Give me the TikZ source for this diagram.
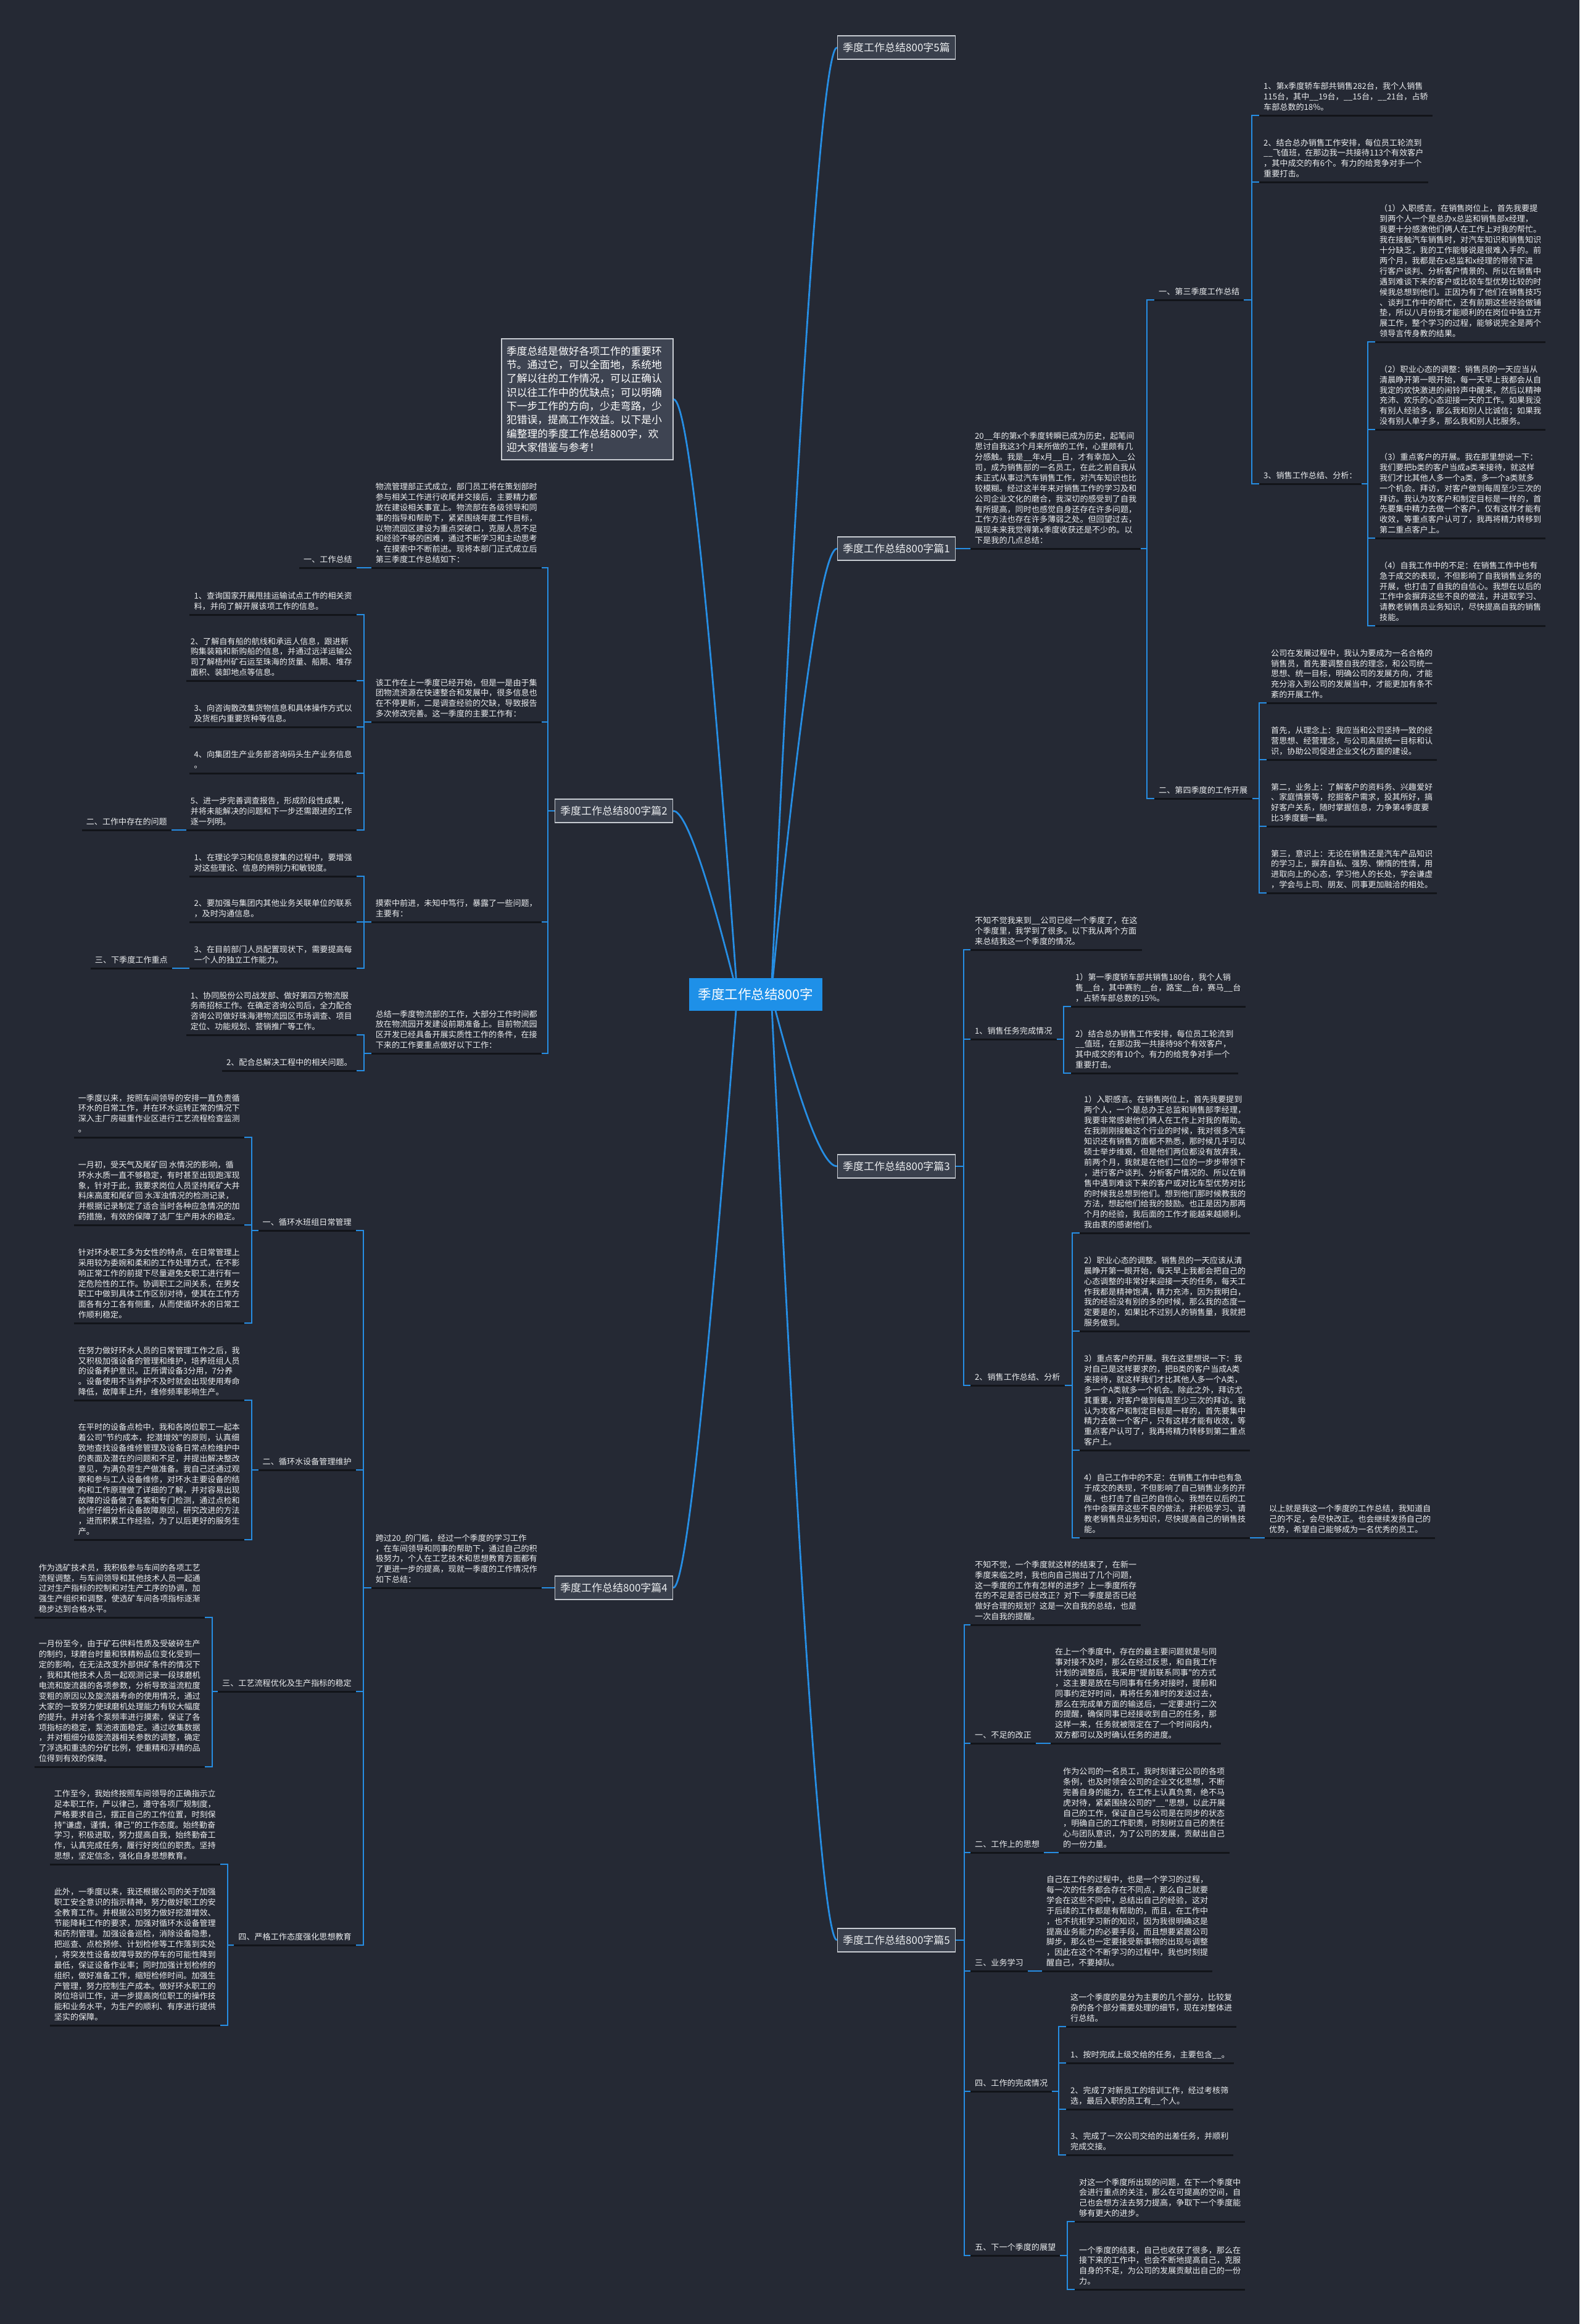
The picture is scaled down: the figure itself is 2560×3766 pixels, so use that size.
\documentclass[tikz,border=0pt]{standalone}
\usepackage{fontspec}
\newfontfamily\cjk{Noto Sans CJK SC}
\usetikzlibrary{calc}
\definecolor{bg}{RGB}{37,41,52}
\definecolor{blu}{RGB}{38,142,228}
\definecolor{ulc}{RGB}{18,20,25}
\definecolor{txc}{RGB}{236,238,240}
\definecolor{boxf}{RGB}{58,64,77}
\definecolor{boxd}{RGB}{200,204,210}
\definecolor{introf}{RGB}{62,68,82}
\definecolor{cfill}{RGB}{30,144,232}
\newcommand\tf{\cjk\fontsize{13.1}{16.9}\selectfont}
\newcommand\conR[2]{\draw[cn] (#1.south east) -| ($(#2.south west)+(-12,0)$) -- (#2.south west);}
\newcommand\conL[2]{\draw[cn] (#1.south west) -| ($(#2.south east)+(12,0)$) -- (#2.south east);}
\newcommand\qc[3]{\draw[cn] #1 .. controls ($#1!2/3!#2$) and ($#3!2/3!#2$) .. #3;}
\tikzset{
 ul/.style={draw=ulc, line width=3pt},
 cn/.style={draw=blu, line width=2.8pt},
 tx/.style={font=\tf, text=txc, align=left, inner xsep=7pt, inner ysep=3pt,
   execute at end node=\strut,
   append after command={(\tikzlastnode.south west) edge[ul] (\tikzlastnode.south east)}},
 R/.style={tx, anchor=south west},
 L/.style={tx, anchor=south east},
 topbox/.style={draw=boxd, fill=boxf, line width=1.5pt, text=txc,
   font=\cjk\fontsize{17}{20}\selectfont, minimum width=191pt, minimum height=38pt, inner sep=0pt},
}
\begin{document}
\begin{tikzpicture}[x=1pt,y=-1pt]
\useasboundingbox (0,0) rectangle (2560,3766);
\fill[bg] (0,0) rectangle (2560,3766);

% ---------- level-1 nodes ----------
\node[topbox] (t5) at (1453,77) {季度工作总结800字5篇};
\node[topbox] (t1) at (1453,889) {季度工作总结800字篇1};
\node[topbox] (t3) at (1453,1890) {季度工作总结800字篇3};
\node[topbox] (t6) at (1453,3144) {季度工作总结800字篇5};
\node[topbox] (t2) at (995,1314) {季度工作总结800字篇2};
\node[topbox] (t4) at (995,2573) {季度工作总结800字篇4};
\node[draw=boxd, fill=introf, line width=1.5pt, text=white, align=left,
  text width=262pt, inner xsep=8pt, minimum width=278pt, minimum height=196pt,
  font=\cjk\fontsize{16.8}{22.3}\selectfont] (intro) at (952,647)
  {季度总结是做好各项工作的重要环\\节。通过它，可以全面地，系统地\\了解以往的工作情况，可以正确认\\识以往工作中的优缺点；可以明确\\下一步工作的方向，少走弯路，少\\犯错误，提高工作效益。以下是小\\编整理的季度工作总结800字，欢\\迎大家借鉴与参考！};

% ---------- curves from centre ----------
\coordinate (sr) at (1250,1611);
\coordinate (sl) at (1195,1611);
\qc{(sr)}{(1322,77)}{(t5.west)}
\qc{(sr)}{(1322,889)}{(t1.west)}
\qc{(sr)}{(1322,1890)}{(t3.west)}
\qc{(sr)}{(1322,3144)}{(t6.west)}
\qc{(sl)}{(1121,1314)}{(t2.east)}
\qc{(sl)}{(1121,2573)}{(t4.east)}
\qc{(sl)}{(1126,648)}{(intro.east)}

\node[fill=cfill, text=white, font=\cjk\fontsize{21.5}{25}\selectfont,
  minimum width=216pt, minimum height=53pt, inner sep=0pt] (c) at (1225,1611) {季度工作总结800字};

% ================= 篇1 =================
\node[R] (p1) at (1573,889) {20\_\_年的第x个季度转瞬已成为历史，起笔间\\思讨自我这3个月来所做的工作，心里颇有几\\分感触。我是\_\_年x月\_\_日，才有幸加入\_\_公\\司，成为销售部的一名员工，在此之前自我从\\未正式从事过汽车销售工作，对汽车知识也比\\较模糊。经过这半年来对销售工作的学习及和\\公司企业文化的磨合，我深切的感受到了自我\\有所提高，同时也感觉自身还存在许多问题，\\工作方法也存在许多薄弱之处。但回望过去，\\展现未来我觉得第x季度收获还是不少的。以\\下是我的几点总结：};
\node[R] (a1) at (1871,486) {一、第三季度工作总结};
\node[R] (a2) at (1871,1294) {二、第四季度的工作开展};
\node[R] (a11) at (2041,187) {1、第x季度轿车部共销售282台，我个人销售\\115台，其中\_\_19台，\_\_15台，\_\_21台，占轿\\车部总数的18\%。};
\node[R] (a12) at (2041,295) {2、结合总办销售工作安排，每位员工轮流到\\\_\_飞值班，在那边我一共接待113个有效客户\\，其中成交的有6个。有力的给竞争对手一个\\重要打击。};
\node[R] (a13) at (2041,784) {3、销售工作总结、分析：};
\node[R] (b1) at (2229,554) {（1）入职感言。在销售岗位上，首先我要提\\到两个人一个是总办x总监和销售部x经理，\\我要十分感激他们俩人在工作上对我的帮忙。\\我在接触汽车销售时，对汽车知识和销售知识\\十分缺乏，我的工作能够说是很难入手的。前\\两个月，我都是在x总监和x经理的带领下进\\行客户谈判、分析客户情景的、所以在销售中\\遇到难谈下来的客户或比较车型优势比较的时\\候我总想到他们。正因为有了他们在销售技巧\\、谈判工作中的帮忙，还有前期这些经验做铺\\垫，所以八月份我才能顺利的在岗位中独立开\\展工作，整个学习的过程，能够说完全是两个\\领导言传身教的结果。};
\node[R] (b2) at (2229,696) {（2）职业心态的调整：销售员的一天应当从\\清晨睁开第一眼开始，每一天早上我都会从自\\我定的欢快激进的闹铃声中醒来，然后以精神\\充沛、欢乐的心态迎接一天的工作。如果我没\\有别人经验多，那么我和别人比诚信；如果我\\没有别人单子多，那么我和别人比服务。};
\node[R] (b3) at (2229,872) {（3）重点客户的开展。我在那里想说一下：\\我们要把b类的客户当成a类来接待，就这样\\我们才比其他人多一个a类，多一个a类就多\\一个机会。拜访，对客户做到每周至少三次的\\拜访。我认为攻客户和制定目标是一样的，首\\先要集中精力去做一个客户，仅有这样才能有\\收效，等重点客户认可了，我再将精力转移到\\第二重点客户上。};
\node[R] (b4) at (2229,1014) {（4）自我工作中的不足：在销售工作中也有\\急于成交的表现，不但影响了自我销售业务的\\开展，也打击了自我的自信心。我想在以后的\\工作中会摒弃这些不良的做法，并进取学习、\\请教老销售员业务知识，尽快提高自我的销售\\技能。};
\node[R] (a21) at (2053,1139) {公司在发展过程中，我认为要成为一名合格的\\销售员，首先要调整自我的理念，和公司统一\\思想、统一目标，明确公司的发展方向，才能\\充分溶入到公司的发展当中，才能更加有条不\\紊的开展工作。};
\node[R] (a22) at (2053,1231) {首先，从理念上：我应当和公司坚持一致的经\\营思想、经营理念，与公司高层统一目标和认\\识，协助公司促进企业文化方面的建设。};
\node[R] (a23) at (2053,1339) {第二，业务上：了解客户的资料务、兴趣爱好\\、家庭情景等，挖掘客户需求，投其所好，搞\\好客户关系，随时掌握信息，力争第4季度要\\比3季度翻一翻。};
\node[R] (a24) at (2053,1447) {第三，意识上：无论在销售还是汽车产品知识\\的学习上，摒弃自私、强势、懒惰的性情，用\\进取向上的心态，学习他人的长处，学会谦虚\\，学会与上司、朋友、同事更加融洽的相处。};
\draw[cn] (t1.east) -- (p1.south west);
\conR{p1}{a1} \conR{p1}{a2}
\conR{a1}{a11} \conR{a1}{a12} \conR{a1}{a13}
\conR{a13}{b1} \conR{a13}{b2} \conR{a13}{b3} \conR{a13}{b4}
\conR{a2}{a21} \conR{a2}{a22} \conR{a2}{a23} \conR{a2}{a24}

% ================= 篇3 =================
\node[R] (q0) at (1573,1539) {不知不觉我来到\_\_公司已经一个季度了，在这\\个季度里，我学到了很多。以下我从两个方面\\来总结我这一个季度的情况。};
\node[R] (q1) at (1573,1684) {1、销售任务完成情况};
\node[R] (q2) at (1573,2245) {2、销售工作总结、分析};
\node[R] (q11) at (1736,1631) {1）第一季度轿车部共销售180台，我个人销\\售\_\_台，其中赛豹\_\_台，路宝\_\_台，赛马\_\_台\\，占轿车部总数的15\%。};
\node[R] (q12) at (1736,1739) {2）结合总办销售工作安排，每位员工轮流到\\\_\_值班，在那边我一共接待98个有效客户，\\其中成交的有10个。有力的给竞争对手一个\\重要打击。};
\node[R] (q21) at (1750,1998) {1）入职感言。在销售岗位上，首先我要提到\\两个人，一个是总办王总监和销售部李经理，\\我要非常感谢他们俩人在工作上对我的帮助。\\在我刚刚接触这个行业的时候，我对很多汽车\\知识还有销售方面都不熟悉，那时候几乎可以\\硕士举步维艰，但是他们两位都没有放弃我，\\前两个月，我就是在他们二位的一步步带领下\\，进行客户谈判、分析客户情况的、所以在销\\售中遇到难谈下来的客户或对比车型优势对比\\的时候我总想到他们。想到他们那时候教我的\\方法，想起他们给我的鼓励。也正是因为那两\\个月的经验，我后面的工作才能越来越顺利。\\我由衷的感谢他们。};
\node[R] (q22) at (1750,2157) {2）职业心态的调整。销售员的一天应该从清\\晨睁开第一眼开始，每天早上我都会把自己的\\心态调整的非常好来迎接一天的任务，每天工\\作我都是精神饱满，精力充沛，因为我明白，\\我的经验没有别的多的时候，那么我的态度一\\定要是的，如果比不过别人的销售量，我就把\\服务做到。};
\node[R] (q23) at (1750,2350) {3）重点客户的开展。我在这里想说一下：我\\对自己是这样要求的，把B类的客户当成A类\\来接待，就这样我们才比其他人多一个A类，\\多一个A类就多一个机会。除此之外，拜访尤\\其重要，对客户做到每周至少三次的拜访。我\\认为攻客户和制定目标是一样的，首先要集中\\精力去做一个客户，只有这样才能有收效，等\\重点客户认可了，我再将精力转移到第二重点\\客户上。};
\node[R] (q24) at (1750,2492) {4）自己工作中的不足：在销售工作中也有急\\于成交的表现，不但影响了自己销售业务的开\\展，也打击了自己的自信心。我想在以后的工\\作中会摒弃这些不良的做法，并积极学习、请\\教老销售员业务知识，尽快提高自己的销售技\\能。};
\node[R] (q25) at (2050,2492) {以上就是我这一个季度的工作总结，我知道自\\己的不足，会尽快改正。也会继续发扬自己的\\优势，希望自己能够成为一名优秀的员工。};
\draw[cn] (t3.east) -| ($(q0.south west)+(-11,0)$) -- (q0.south west);
\draw[cn] (t3.east) -| ($(q1.south west)+(-11,0)$) -- (q1.south west);
\draw[cn] (t3.east) -| ($(q2.south west)+(-11,0)$) -- (q2.south west);
\conR{q1}{q11} \conR{q1}{q12}
\conR{q2}{q21} \conR{q2}{q22} \conR{q2}{q23} \conR{q2}{q24}
\draw[cn] (q24.south east) -- (q25.south west);

% ================= 篇5 =================
\node[R] (r0) at (1573,2633) {不知不觉，一个季度就这样的结束了，在新一\\季度来临之时，我也向自己抛出了几个问题，\\这一季度的工作有怎样的进步？上一季度所存\\在的不足是否已经改正？对下一季度是否已经\\做好合理的规划？这是一次自我的总结，也是\\一次自我的提醒。};
\node[R] (r1) at (1573,2825) {一、不足的改正};
\node[R] (r1c) at (1703,2825) {在上一个季度中，存在的最主要问题就是与同\\事对接不及时，那么在经过反思，和自我工作\\计划的调整后，我采用"提前联系同事"的方式\\，这主要是放在与同事有任务对接时，提前和\\同事约定好时间，再将任务准时的发送过去，\\那么在完成单方面的输送后，一定要进行二次\\的提醒，确保同事已经接收到自己的任务，那\\这样一来，任务就被限定在了一个时间段内，\\双方都可以及时确认任务的进度。};
\node[R] (r2) at (1573,3002) {二、工作上的思想};
\node[R] (r2c) at (1716,3002) {作为公司的一名员工，我时刻谨记公司的各项\\条例，也及时领会公司的企业文化思想，不断\\完善自身的能力，在工作上认真负责，绝不马\\虎对待，紧紧围绕公司的"\_\_"思想，以此开展\\自己的工作，保证自己与公司是在同步的状态\\，明确自己的工作职责，时刻树立自己的责任\\心与团队意识，为了公司的发展，贡献出自己\\的一份力量。};
\node[R] (r3) at (1573,3194) {三、业务学习};
\node[R] (r3c) at (1689,3194) {自己在工作的过程中，也是一个学习的过程，\\每一次的任务都会存在不同点，那么自己就要\\学会在这些不同中，总结出自己的经验，这对\\于后续的工作都是有帮助的，而且，在工作中\\，也不抗拒学习新的知识，因为我很明确这是\\提高业务能力的必要手段，而且想要紧跟公司\\脚步，那么也一定要接受新事物的出现与调整\\，因此在这个不断学习的过程中，我也时刻提\\醒自己，不要掉队。};
\node[R] (r4) at (1573,3389) {四、工作的完成情况};
\node[R] (r41) at (1728,3284) {这一个季度的是分为主要的几个部分，比较复\\杂的各个部分需要处理的细节，现在对整体进\\行总结。};
\node[R] (r42) at (1728,3343) {1、按时完成上级交给的任务，主要包含\_\_。};
\node[R] (r43) at (1728,3418) {2、完成了对新员工的培训工作，经过考核筛\\选，最后入职的员工有\_\_个人。};
\node[R] (r44) at (1728,3492) {3、完成了一次公司交给的出差任务，并顺利\\完成交接。};
\node[R] (r5) at (1573,3655) {五、下一个季度的展望};
\node[R] (r51) at (1742,3600) {对这一个季度所出现的问题，在下一个季度中\\会进行重点的关注，那么在可提高的空间，自\\己也会想方法去努力提高，争取下一个季度能\\够有更大的进步。};
\node[R] (r52) at (1742,3710) {一个季度的结束，自己也收获了很多，那么在\\接下来的工作中，也会不断地提高自己，克服\\自身的不足，为公司的发展贡献出自己的一份\\力。};
\foreach \n in {r0,r1,r2,r3,r4,r5}{
  \draw[cn] (t6.east) -| ($(\n.south west)+(-10,0)$) -- (\n.south west);}
\draw[cn] (r1.south east) -- (r1c.south west);
\draw[cn] (r2.south east) -- (r2c.south west);
\draw[cn] (r3.south east) -- (r3c.south west);
\conR{r4}{r41} \conR{r4}{r42} \conR{r4}{r43} \conR{r4}{r44}
\conR{r5}{r51} \conR{r5}{r52}

% ================= 篇2 =================
\node[L] (m1) at (878,920) {物流管理部正式成立，部门员工将在策划部时\\参与相关工作进行收尾并交接后，主要精力都\\放在建设相关事宜上。物流部在各级领导和同\\事的指导和帮助下，紧紧围绕年度工作目标，\\以物流园区建设为重点突破口，克服人员不足\\和经验不够的困难，通过不断学习和主动思考\\，在摸索中不断前进。现将本部门正式成立后\\第三季度工作总结如下：};
\node[L] (m1c) at (578,920) {一、工作总结};
\node[L] (m2) at (878,1170) {该工作在上一季度已经开始，但是一是由于集\\团物流资源在快速整合和发展中，很多信息也\\在不停更新，二是调查经验的欠缺，导致报告\\多次修改完善。这一季度的主要工作有：};
\node[L] (m21) at (578,996) {1、查询国家开展甩挂运输试点工作的相关资\\料，并向了解开展该项工作的信息。};
\node[L] (m22) at (578,1103) {2、了解自有船的航线和承运人信息，跟进新\\购集装箱和新购船的信息，并通过远洋运输公\\司了解梧州矿石运至珠海的货量、船期、堆存\\面积、装卸地点等信息。};
\node[L] (m23) at (578,1178) {3、向咨询散改集货物信息和具体操作方式以\\及货柜内重要货种等信息。};
\node[L] (m24) at (578,1253) {4、向集团生产业务部咨询码头生产业务信息\\。};
\node[L] (m25) at (578,1345) {5、进一步完善调查报告，形成阶段性成果，\\并将未能解决的问题和下一步还需跟进的工作\\逐一列明。};
\node[L] (m25c) at (278,1345) {二、工作中存在的问题};
\node[L] (m3) at (878,1494) {摸索中前进，未知中笃行，暴露了一些问题，\\主要有：};
\node[L] (m31) at (578,1420) {1、在理论学习和信息搜集的过程中，要增强\\对这些理论、信息的辨别力和敏锐度。};
\node[L] (m32) at (578,1494) {2、要加强与集团内其他业务关联单位的联系\\，及时沟通信息。};
\node[L] (m33) at (578,1569) {3、在目前部门人员配置现状下，需要提高每\\一个人的独立工作能力。};
\node[L] (m33c) at (279,1569) {三、下季度工作重点};
\node[L] (m4) at (878,1707) {总结一季度物流部的工作，大部分工作时间都\\放在物流园开发建设前期准备上。目前物流园\\区开发已经具备开展实质性工作的条件，在接\\下来的工作要重点做好以下工作：};
\node[L] (m41) at (578,1677) {1、协同股份公司战发部、做好第四方物流服\\务商招标工作。在确定咨询公司后，全力配合\\咨询公司做好珠海港物流园区市场调查、项目\\定位、功能规划、营销推广等工作。};
\node[L] (m42) at (578,1735) {2、配合总解决工程中的相关问题。};
\foreach \n in {m1,m2,m3,m4}{
  \draw[cn] (t2.west) -| ($(\n.south east)+(10,0)$) -- (\n.south east);}
\draw[cn] (m1.south west) -- (m1c.south east);
\conL{m2}{m21} \conL{m2}{m22} \conL{m2}{m23} \conL{m2}{m24} \conL{m2}{m25}
\draw[cn] (m25.south west) -- (m25c.south east);
\conL{m3}{m31} \conL{m3}{m32} \conL{m3}{m33}
\draw[cn] (m33.south west) -- (m33c.south east);
\conL{m4}{m41} \conL{m4}{m42}

% ================= 篇4 =================
\node[L] (k0) at (878,2573) {跨过20\_的门槛，经过一个季度的学习工作\\，在车间领导和同事的帮助下，通过自己的积\\极努力，个人在工艺技术和思想教育方面都有\\了更进一步的提高，现就一季度的工作情况作\\如下总结：};
\node[L] (k1) at (577,1994) {一、循环水班组日常管理};
\node[L] (k2) at (577,2382) {二、循环水设备管理维护};
\node[L] (k3) at (577,2741) {三、工艺流程优化及生产指标的稳定};
\node[L] (k4) at (577,3152) {四、严格工作态度强化思想教育};
\node[L] (k11) at (396,1843) {一季度以来，按照车间领导的安排一直负责循\\环水的日常工作，并在环水运转正常的情况下\\深入主厂房磁重作业区进行工艺流程检查监测\\。};
\node[L] (k12) at (396,1985) {一月初，受天气及尾矿回 水情况的影响，循\\环水水质一直不够稳定，有时甚至出现跑浑现\\象，针对于此，我要求岗位人员坚持尾矿大井\\料床高度和尾矿回 水浑浊情况的检测记录，\\并根据记录制定了适合当时各种应急情况的加\\药措施，有效的保障了选厂生产用水的稳定。};
\node[L] (k13) at (396,2144) {针对环水职工多为女性的特点，在日常管理上\\采用较为委婉和柔和的工作处理方式，在不影\\响正常工作的前提下尽量避免女职工进行有一\\定危险性的工作。协调职工之间关系，在男女\\职工中做到具体工作区别对待，使其在工作方\\面各有分工各有侧重，从而使循环水的日常工\\作顺利稳定。};
\node[L] (k21) at (396,2269) {在努力做好环水人员的日常管理工作之后，我\\又积极加强设备的管理和维护，培养班组人员\\的设备养护意识。正所谓设备3分用，7分养\\。设备使用不当养护不及时就会出现使用寿命\\降低，故障率上升，维修频率影响生产。};
\node[L] (k22) at (396,2495) {在平时的设备点检中，我和各岗位职工一起本\\着公司"节约成本，挖潜增效"的原则，认真细\\致地查找设备维修管理及设备日常点检维护中\\的表面及潜在的问题和不足，并提出解决整改\\意见，为满负荷生产做准备。我自己还通过观\\察和参与工人设备维修，对环水主要设备的结\\构和工作原理做了详细的了解，并对容易出现\\故障的设备做了备案和专门检测，通过点检和\\检修仔细分析设备故障原因，研究改进的方法\\，进而积累工作经验，为了以后更好的服务生\\产。};
\node[L] (k31) at (332,2621) {作为选矿技术员，我积极参与车间的各项工艺\\流程调整，与车间领导和其他技术人员一起通\\过对生产指标的控制和对生产工序的协调，加\\强生产组织和调整，使选矿车间各项指标逐渐\\稳步达到合格水平。};
\node[L] (k32) at (332,2863) {一月份至今，由于矿石供料性质及受破碎生产\\的制约，球磨台时量和铁精粉品位变化受到一\\定的影响，在无法改变外部供矿条件的情况下\\，我和其他技术人员一起观测记录一段球磨机\\电流和旋流器的各项参数，分析导致溢流粒度\\变粗的原因以及旋流器寿命的使用情况，通过\\大家的一致努力使球磨机处理能力有较大幅度\\的提升。并对各个泵频率进行摸索，保证了各\\项指标的稳定，泵池液面稳定。通过收集数据\\，并对粗细分级旋流器相关参数的调整，确定\\了浮选和重选的分矿比例，使重精和浮精的品\\位得到有效的保障。};
\node[L] (k41) at (357,3021) {工作至今，我始终按照车间领导的正确指示立\\足本职工作，严以律己，遵守各项厂规制度，\\严格要求自己，摆正自己的工作位置，时刻保\\持"谦虚，谨慎，律己"的工作态度。始终勤奋\\学习，积极进取，努力提高自我，始终勤奋工\\作，认真完成任务，履行好岗位的职责。坚持\\思想，坚定信念，强化自身思想教育。};
\node[L] (k42) at (357,3282) {此外，一季度以来，我还根据公司的关于加强\\职工安全意识的指示精神，努力做好职工的安\\全教育工作。并根据公司努力做好挖潜增效、\\节能降耗工作的要求，加强对循环水设备管理\\和药剂管理。加强设备巡检，消除设备隐患，\\把巡查、点检预修、计划检修等工作落到实处\\，将突发性设备故障导致的停车的可能性降到\\最低，保证设备作业率；同时加强计划检修的\\组织，做好准备工作，缩短检修时间。加强生\\产管理，努力控制生产成本。做好环水职工的\\岗位培训工作，进一步提高岗位职工的操作技\\能和业务水平，为生产的顺利、有序进行提供\\坚实的保障。};
\draw[cn] (t4.west) -- (k0.south east);
\conL{k0}{k1} \conL{k0}{k2} \conL{k0}{k3} \conL{k0}{k4}
\conL{k1}{k11} \conL{k1}{k12} \conL{k1}{k13}
\conL{k2}{k21} \conL{k2}{k22}
\conL{k3}{k31} \conL{k3}{k32}
\conL{k4}{k41} \conL{k4}{k42}
\end{tikzpicture}
\end{document}
